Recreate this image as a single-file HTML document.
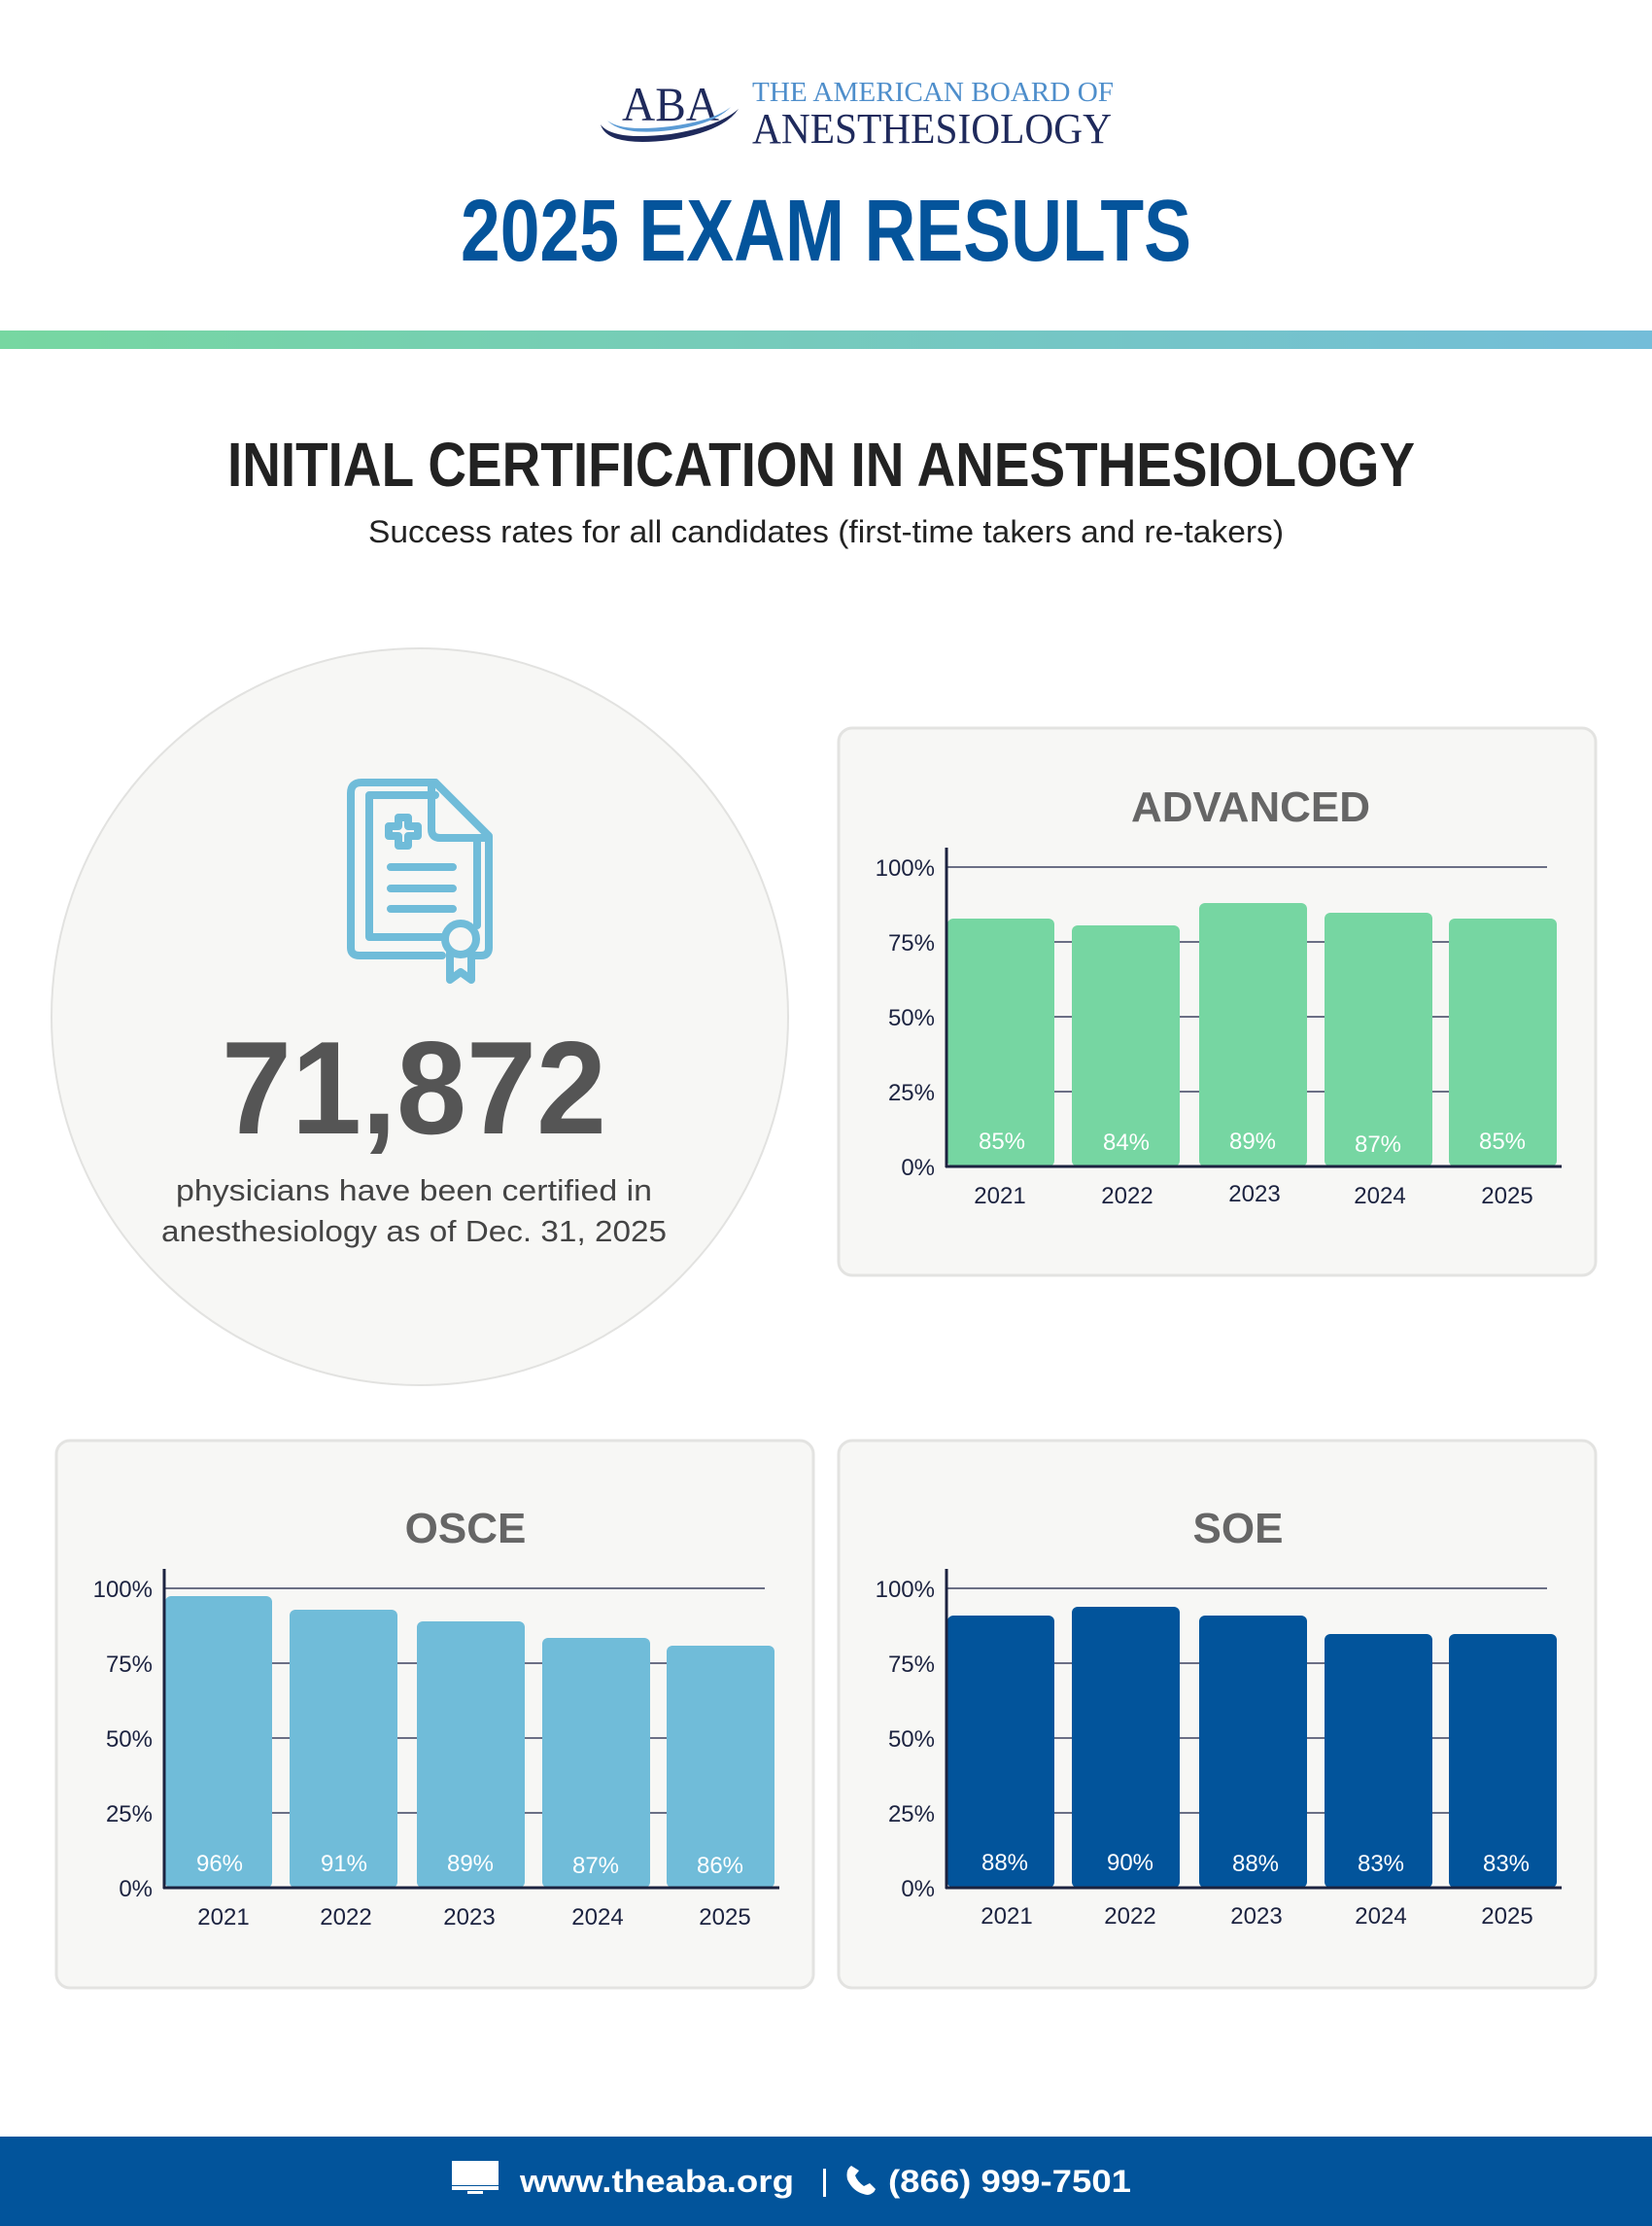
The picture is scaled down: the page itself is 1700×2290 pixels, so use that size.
<!DOCTYPE html>
<html><head><meta charset="utf-8"><style>
html,body{margin:0;padding:0;background:#fff;}
svg{display:block;}
text{font-family:"Liberation Sans",sans-serif;}
text.serif{font-family:"Liberation Serif",serif;}
</style></head><body>
<svg width="1700" height="2290" viewBox="0 0 1700 2290" xmlns="http://www.w3.org/2000/svg">
<defs>
<linearGradient id="g" x1="0" x2="1"><stop offset="0" stop-color="#77d7a1"/><stop offset="1" stop-color="#74bdd9"/></linearGradient>
</defs>
<rect width="1700" height="2290" fill="#fff"/>
<!-- logo -->
<text class="serif" x="690" y="124" text-anchor="middle" font-size="50" fill="#1f2a5c" textLength="100" lengthAdjust="spacingAndGlyphs">ABA</text>
<path d="M618 128 Q630 145 690 138 Q740 130 760 112 Q745 135 690 144 Q625 152 618 128Z" fill="#1f2a5c"/>
<path d="M625 124 Q640 136 690 130 Q735 124 752 110 Q735 128 690 134 Q640 140 625 124Z" fill="#5b9bd5"/>
<text class="serif" x="774" y="104" font-size="28" fill="#4e8ecb" textLength="372" lengthAdjust="spacingAndGlyphs">THE AMERICAN BOARD OF</text>
<text class="serif" x="774" y="147" font-size="44" fill="#1f2a5c" textLength="370" lengthAdjust="spacingAndGlyphs">ANESTHESIOLOGY</text>
<text x="850" y="268" text-anchor="middle" font-size="90" font-weight="bold" fill="#04549b" textLength="752" lengthAdjust="spacingAndGlyphs">2025 EXAM RESULTS</text>
<rect x="0" y="340" width="1700" height="19" fill="url(#g)"/>
<text x="845" y="500" text-anchor="middle" font-size="64" font-weight="bold" fill="#222" textLength="1222" lengthAdjust="spacingAndGlyphs">INITIAL CERTIFICATION IN ANESTHESIOLOGY</text>
<text x="850" y="558" text-anchor="middle" font-size="32" fill="#222" textLength="942" lengthAdjust="spacingAndGlyphs">Success rates for all candidates (first-time takers and re-takers)</text>
<!-- circle -->
<circle cx="432" cy="1046" r="379" fill="#f7f7f5" stroke="#e2e2e0" stroke-width="2"/>
<g fill="none" stroke="#70bcd9" stroke-width="8" stroke-linecap="round" stroke-linejoin="round">
<path d="M448 805 H372 Q361 805 361 816 V975 Q361 983 370 983 H455"/>
<path d="M448 805 L503 860 V975 Q503 983 495 983 H488"/>
<path d="M444 808 V853 Q444 862 453 862 H500"/>
<path d="M448 818 H380 V964 H455"/>
<path d="M491 866 V952"/>
<path d="M400 850 h10 v-9 h10 v9 h10 v10 h-10 v10 h-10 v-10 h-10 z"/>
<path d="M402 892 h64 M402 914 h64 M402 935 h64"/>
<circle cx="474" cy="966" r="16"/>
<path d="M463 980 V1008 L474 1000 L485 1008 V980"/>
</g>
<text x="426" y="1166" text-anchor="middle" font-size="136" font-weight="bold" fill="#555" textLength="396" lengthAdjust="spacingAndGlyphs">71,872</text>
<text x="426" y="1235" text-anchor="middle" font-size="31" fill="#444" textLength="490" lengthAdjust="spacingAndGlyphs">physicians have been certified in</text>
<text x="426" y="1277" text-anchor="middle" font-size="31" fill="#444" textLength="520" lengthAdjust="spacingAndGlyphs">anesthesiology as of Dec. 31, 2025</text>

<g id="adv">
<rect x="863" y="749" width="779" height="563" rx="14" fill="#f7f7f5" stroke="#e3e3e1" stroke-width="3"/>
<text x="1287" y="845" text-anchor="middle" font-size="44" font-weight="bold" fill="#666">ADVANCED</text>
<g stroke="#3d4260" stroke-width="1.5"><line x1="974" y1="892" x2="1592" y2="892"/><line x1="974" y1="969" x2="1592" y2="969"/><line x1="974" y1="1046" x2="1592" y2="1046"/><line x1="974" y1="1123" x2="1592" y2="1123"/></g>
<g fill="#76d6a2"><rect x="975" y="945" width="110" height="255" rx="6"/><rect x="1103" y="952" width="111" height="248" rx="6"/><rect x="1234" y="929" width="111" height="271" rx="6"/><rect x="1363" y="939" width="111" height="261" rx="6"/><rect x="1491" y="945" width="111" height="255" rx="6"/></g>
<line x1="974" y1="872" x2="974" y2="1201" stroke="#1c2340" stroke-width="3"/><line x1="973" y1="1200" x2="1607" y2="1200" stroke="#1c2340" stroke-width="3"/>
<g font-size="24" fill="#1c2340" text-anchor="end"><text x="962" y="901">100%</text><text x="962" y="978">75%</text><text x="962" y="1055">50%</text><text x="962" y="1132">25%</text><text x="962" y="1209">0%</text></g>
<g font-size="24" fill="#fff" text-anchor="middle"><text x="1031" y="1182">85%</text><text x="1159" y="1183">84%</text><text x="1289" y="1182">89%</text><text x="1418" y="1185">87%</text><text x="1546" y="1182">85%</text></g>
<g font-size="24" fill="#1c2340" text-anchor="middle"><text x="1029" y="1238">2021</text><text x="1160" y="1238">2022</text><text x="1291" y="1236">2023</text><text x="1420" y="1238">2024</text><text x="1551" y="1238">2025</text></g>
</g>

<g transform="translate(-805,742)">
<rect x="863" y="740" width="779" height="563" rx="14" fill="#f7f7f5" stroke="#e3e3e1" stroke-width="3"/>
<text x="1284" y="845" text-anchor="middle" font-size="44" font-weight="bold" fill="#666">OSCE</text>
<g stroke="#3d4260" stroke-width="1.5"><line x1="974" y1="892" x2="1592" y2="892"/><line x1="974" y1="969" x2="1592" y2="969"/><line x1="974" y1="1046" x2="1592" y2="1046"/><line x1="974" y1="1123" x2="1592" y2="1123"/></g>
<g fill="#70bcd9"><rect x="975" y="900" width="110" height="300" rx="6"/><rect x="1103" y="914" width="111" height="286" rx="6"/><rect x="1234" y="926" width="111" height="274" rx="6"/><rect x="1363" y="943" width="111" height="257" rx="6"/><rect x="1491" y="951" width="111" height="249" rx="6"/></g>
<line x1="974" y1="872" x2="974" y2="1201" stroke="#1c2340" stroke-width="3"/><line x1="973" y1="1200" x2="1607" y2="1200" stroke="#1c2340" stroke-width="3"/>
<g font-size="24" fill="#1c2340" text-anchor="end"><text x="962" y="901">100%</text><text x="962" y="978">75%</text><text x="962" y="1055">50%</text><text x="962" y="1132">25%</text><text x="962" y="1209">0%</text></g>
<g font-size="24" fill="#fff" text-anchor="middle"><text x="1031" y="1183">96%</text><text x="1159" y="1183">91%</text><text x="1289" y="1183">89%</text><text x="1418" y="1185">87%</text><text x="1546" y="1185">86%</text></g>
<g font-size="24" fill="#1c2340" text-anchor="middle"><text x="1035" y="1238">2021</text><text x="1161" y="1238">2022</text><text x="1288" y="1238">2023</text><text x="1420" y="1238">2024</text><text x="1551" y="1238">2025</text></g>
</g>

<g transform="translate(0,742)">
<rect x="863" y="740" width="779" height="563" rx="14" fill="#f7f7f5" stroke="#e3e3e1" stroke-width="3"/>
<text x="1274" y="845" text-anchor="middle" font-size="44" font-weight="bold" fill="#666">SOE</text>
<g stroke="#3d4260" stroke-width="1.5"><line x1="974" y1="892" x2="1592" y2="892"/><line x1="974" y1="969" x2="1592" y2="969"/><line x1="974" y1="1046" x2="1592" y2="1046"/><line x1="974" y1="1123" x2="1592" y2="1123"/></g>
<g fill="#02549b"><rect x="975" y="920" width="110" height="280" rx="6"/><rect x="1103" y="911" width="111" height="289" rx="6"/><rect x="1234" y="920" width="111" height="280" rx="6"/><rect x="1363" y="939" width="111" height="261" rx="6"/><rect x="1491" y="939" width="111" height="261" rx="6"/></g>
<line x1="974" y1="872" x2="974" y2="1201" stroke="#1c2340" stroke-width="3"/><line x1="973" y1="1200" x2="1607" y2="1200" stroke="#1c2340" stroke-width="3"/>
<g font-size="24" fill="#1c2340" text-anchor="end"><text x="962" y="901">100%</text><text x="962" y="978">75%</text><text x="962" y="1055">50%</text><text x="962" y="1132">25%</text><text x="962" y="1209">0%</text></g>
<g font-size="24" fill="#fff" text-anchor="middle"><text x="1034" y="1182">88%</text><text x="1163" y="1182">90%</text><text x="1292" y="1183">88%</text><text x="1421" y="1183">83%</text><text x="1550" y="1183">83%</text></g>
<g font-size="24" fill="#1c2340" text-anchor="middle"><text x="1036" y="1237">2021</text><text x="1163" y="1237">2022</text><text x="1293" y="1237">2023</text><text x="1421" y="1237">2024</text><text x="1551" y="1237">2025</text></g>
</g>

<!-- footer -->
<rect x="0" y="2198" width="1700" height="92" fill="#02549b"/>
<rect x="465" y="2223" width="48" height="25" fill="#fff"/>
<rect x="465" y="2249" width="48" height="4" fill="#fff"/>
<rect x="481" y="2254" width="16" height="3" fill="#fff"/>
<text x="535" y="2255" font-size="32" font-weight="bold" fill="#fff" textLength="282" lengthAdjust="spacingAndGlyphs">www.theaba.org</text>
<rect x="847" y="2231" width="3" height="29" fill="#fff"/>
<path d="M876 2228 Q870 2232 872 2242 Q878 2256 893 2258 Q899 2257 901 2252 L895 2246 L889 2249 Q882 2244 880 2238 L884 2233 Z" fill="#fff"/>
<text x="914" y="2255" font-size="32" font-weight="bold" fill="#fff" textLength="250" lengthAdjust="spacingAndGlyphs">(866) 999-7501</text>
</svg>
</body></html>
